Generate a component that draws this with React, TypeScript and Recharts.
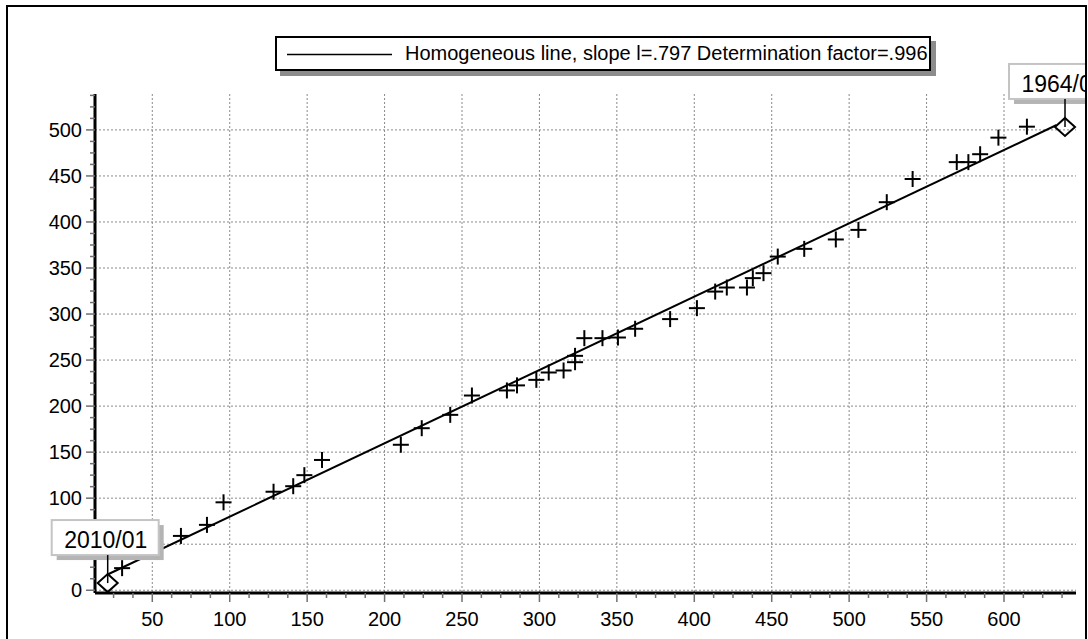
import { CartesianGrid, Scatter, ScatterChart, XAxis, YAxis } from "recharts";

// cumulative values (x = reference, y = station)
const pointX = [
  30.5, 68.5, 85.3, 96, 128.3, 141, 148.2, 159.6, 210.5, 224, 242.4, 256.4,
  279, 285.5, 298, 306, 315.6, 323, 323, 329, 340.7, 350.7, 361.8, 384.4,
  401.7, 413.5, 421, 434, 437.8, 444.7, 453.9, 471, 491.4, 506, 524.3, 541,
  569.5, 577, 584.6, 596.4, 614.8,
];
const pointY = [
  24, 59, 71, 95.5, 107, 113, 125, 141.5, 158, 176, 190.5, 211.5, 217, 222.5,
  228.5, 236.5, 238.7, 247.7, 254.6, 273.8, 273.8, 274.5, 284, 294.5, 306.4,
  324.4, 328.8, 328.8, 339, 344.4, 362.4, 370.8, 381, 391.4, 421.5, 446.7, 465,
  465, 473.6, 491.6, 503.5,
];

// first and last period, marked with a diamond
const endX = [21.2, 639.4];
const endY = [7.8, 503.2];
const endLabels = ["2010/01", "1964/01"];

// homogeneous line (slope .797)
const lineX = [20.8, 634];
const lineY = [16.8, 505.3];

const xMajor = [50, 100, 150, 200, 250, 300, 350, 400, 450, 500, 550, 600];
const yMajor = [0, 50, 100, 150, 200, 250, 300, 350, 400, 450, 500];
const legendText = "Homogeneous line, slope l=.797 Determination factor=.996";

const X_DOMAIN: [number, number] = [13, 646.5];
const Y_DOMAIN: [number, number] = [-3, 539];

const withMinor = (majors: number[], lo: number, hi: number) => {
  const out: number[] = [];
  const step = (majors[1] - majors[0]) / 4;
  for (let v = majors[0] - 4 * step; v <= hi; v += step) {
    if (v >= lo) out.push(v);
  }
  return out;
};

const xTicks = withMinor(xMajor, 14, 646);
const yTicks = withMinor(yMajor, 0, 538);

const points = pointX.map((x, i) => ({ x, y: pointY[i] }));
const ends = endX.map((x, i) => ({ x, y: endY[i], label: endLabels[i] }));
const line = lineX.map((x, i) => ({ x, y: lineY[i] }));

const FONT = '"Liberation Sans", Arial, sans-serif';
const isMajor = (v: number) => Math.abs(v % 50) < 1e-6;

const XTick = (props: any) => {
  const { x, y, payload } = props;
  const axisY = y - 19;
  const major = isMajor(payload.value);
  return (
    <g>
      <line x1={x} x2={x} y1={axisY} y2={axisY + (major ? 9 : 5)} stroke="#707070" strokeWidth={1.5} />
      {major && (
        <text x={x} y={y} dy="0.71em" textAnchor="middle" fontSize={20} fontFamily={FONT} fill="#000">
          {payload.value}
        </text>
      )}
    </g>
  );
};

const YTick = (props: any) => {
  const { x, y, payload } = props;
  const axisX = x + 13;
  const major = isMajor(payload.value);
  return (
    <g>
      <line x1={axisX - (major ? 9 : 5)} x2={axisX} y1={y} y2={y} stroke="#707070" strokeWidth={1.5} />
      {major && (
        <text x={x} y={y} dy="0.36em" textAnchor="end" fontSize={20} fontFamily={FONT} fill="#000">
          {payload.value}
        </text>
      )}
    </g>
  );
};

const Cross = (props: any) => {
  const { cx, cy } = props;
  return (
    <g stroke="#000" strokeWidth={2}>
      <line x1={cx - 8} x2={cx + 8} y1={cy} y2={cy} />
      <line x1={cx} x2={cx} y1={cy - 8} y2={cy + 8} />
    </g>
  );
};

const EndMark = (props: any) => {
  const { cx, cy, payload } = props;
  return (
    <g>
      <rect x={cx - 51} y={cy - 58} width={107} height={35} fill="#b4b4b4" />
      <rect x={cx - 56} y={cy - 63} width={107} height={35} fill="#fff" stroke="#c4c4c4" strokeWidth={2} />
      <text x={cx - 2} y={cy - 35} textAnchor="middle" fontSize={23} fontFamily={FONT} fill="#000">
        {payload.label}
      </text>
      <line x1={cx} x2={cx} y1={cy - 28} y2={cy} stroke="#000" strokeWidth={1.5} />
      <polygon
        points={`${cx},${cy - 9} ${cx + 10},${cy} ${cx},${cy + 9} ${cx - 10},${cy}`}
        fill="none"
        stroke="#000"
        strokeWidth={2}
      />
    </g>
  );
};

export default function App() {
  return (
    <div style={{ position: "relative", width: 1088, height: 639, overflow: "hidden", background: "#fff" }}>
      <style>{"body{margin:0;overflow:hidden}"}</style>
      <div style={{ position: "absolute", left: 0, top: 0, width: 1086, height: 639, overflow: "hidden" }}>
        <ScatterChart width={1088} height={639} margin={{ top: 94, right: 12, bottom: 0, left: 0 }}>
          <CartesianGrid
            horizontalValues={yMajor}
            verticalValues={xMajor}
            stroke="#8a8a8a"
            strokeDasharray="2 2"
          />
          <XAxis
            type="number"
            dataKey="x"
            domain={X_DOMAIN}
            ticks={xTicks}
            interval={0}
            height={46}
            tickSize={8}
            tickMargin={11}
            tick={XTick}
            tickLine={false}
            axisLine={{ stroke: "#000", strokeWidth: 3 }}
          />
          <YAxis
            type="number"
            dataKey="y"
            domain={Y_DOMAIN}
            ticks={yTicks}
            interval={0}
            width={95}
            tickSize={8}
            tickMargin={5}
            tick={YTick}
            tickLine={false}
            axisLine={{ stroke: "#000", strokeWidth: 3 }}
          />
          <Scatter
            data={line}
            line={{ stroke: "#000", strokeWidth: 2 }}
            shape={() => <g />}
            isAnimationActive={false}
          />
          <Scatter data={points} shape={Cross} isAnimationActive={false} />
        </ScatterChart>
      </div>

      {/* end markers drawn over the axes, same scales */}
      <div style={{ position: "absolute", left: 0, top: 0, width: 1086, height: 639, overflow: "hidden" }}>
        <ScatterChart width={1088} height={639} margin={{ top: 94, right: 12, bottom: 46, left: 95 }}>
          <XAxis type="number" dataKey="x" domain={X_DOMAIN} hide />
          <YAxis type="number" dataKey="y" domain={Y_DOMAIN} hide />
          <Scatter data={ends} shape={EndMark} isAnimationActive={false} />
        </ScatterChart>
      </div>

      {/* legend */}
      <div
        style={{
          position: "absolute",
          left: 275,
          top: 36,
          width: 656,
          height: 35,
          boxSizing: "border-box",
          border: "2px solid #000",
          background: "#fff",
          boxShadow: "5px 5px 0 #8c8c8c",
          fontFamily: FONT,
        }}
      >
        <svg width={120} height={31} style={{ position: "absolute", left: 0, top: 0 }}>
          <line x1={10} x2={115} y1={16.5} y2={16.5} stroke="#000" strokeWidth={1.5} />
        </svg>
        <span
          style={{
            position: "absolute",
            left: 128,
            top: 3,
            fontSize: 20,
            lineHeight: "24px",
            whiteSpace: "nowrap",
            color: "#000",
          }}
        >
          {legendText}
        </span>
      </div>

      {/* outer frame */}
      <div
        style={{
          position: "absolute",
          left: 6,
          top: 5,
          width: 1081,
          height: 700,
          boxSizing: "border-box",
          border: "2px solid #000",
          pointerEvents: "none",
        }}
      />
    </div>
  );
}
